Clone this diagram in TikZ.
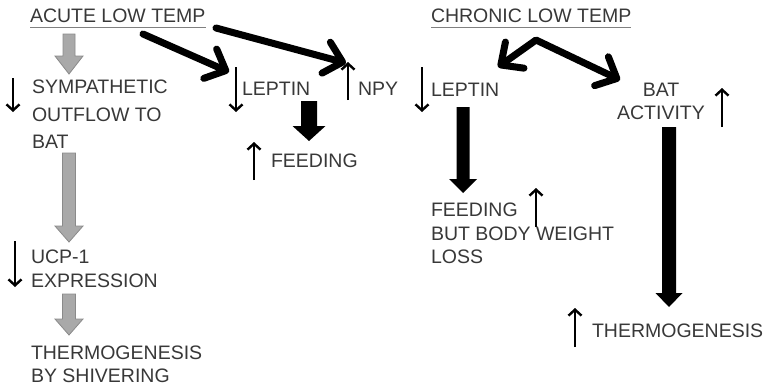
\documentclass[tikz,border=0pt]{standalone}
\usepackage{fontspec}
\setmainfont{Liberation Sans}
\usetikzlibrary{arrows.meta}

\definecolor{txt}{HTML}{383838}
\definecolor{grayfill}{HTML}{A9A9A9}
\definecolor{grayline}{HTML}{8A8A8A}
\definecolor{ulgray}{HTML}{808080}

\tikzset{
  lbl/.style={font=\fontsize{19.5}{23}\selectfont, text=txt, inner sep=0pt, outer sep=0pt},
  updown/.style={line width=2.4pt, -{Straight Barb[length=6pt,width=13pt,line join=miter]}},
  barb/.tip={Straight Barb[length=17pt,width=32pt,line cap=round,line join=round]},
  bigopen/.style={line width=7pt, line cap=round, line join=round, -barb},
  uline/.style={draw=ulgray, line width=1.5pt},
  grayblock/.style={fill=grayfill, draw=grayline, line width=0.8pt},
  blackblock/.style={fill=black},
  % downward block arrow: {length}{shaft width}{head width}{head length}
  pics/blockdown/.style n args={4}{code={
    \path[pic actions] (-#2/2,0) -- (#2/2,0) -- (#2/2,#1-#4) -- (#3/2,#1-#4)
      -- (0,#1) -- (-#3/2,#1-#4) -- (-#2/2,#1-#4) -- cycle;
  }}
}

\begin{document}
\begin{tikzpicture}[x=1pt,y=-1pt]
  \useasboundingbox (0,0) rectangle (768,388);

  % ---------- acute cold exposure ----------
  \node[lbl, anchor=base west] (acute) at (30,23) {ACUTE LOW TEMP};
  \draw[uline] ([yshift=-4.5pt]acute.base west) -- ([yshift=-4.5pt]acute.base east);

  \node[lbl, anchor=north west, align=left, font=\fontsize{19.5}{27.5}\selectfont]
    (symp) at (32,80) {SYMPATHETIC\\OUTFLOW TO\\BAT};
  \node[lbl, anchor=north west, align=left, font=\fontsize{19.5}{24}\selectfont]
    (ucp) at (31,250) {UCP-1\\EXPRESSION};
  \node[lbl, anchor=north west, align=left, font=\fontsize{19.5}{23}\selectfont]
    (shiver) at (31,346) {THERMOGENESIS\\BY SHIVERING};

  \node[lbl, anchor=base west] (leptA) at (242,95) {LEPTIN};
  \node[lbl, anchor=base west] (feedA) at (271,167) {FEEDING};
  \node[lbl, anchor=base west] (npy) at (358,95) {NPY};

  % gray block arrows down the left column
  \coordinate (g1) at (69,34);
  \coordinate (g2) at (69,153);
  \coordinate (g3) at (69,294);
  \pic[grayblock] at (g1) {blockdown={40}{12}{28}{18}};
  \pic[grayblock] at (g2) {blockdown={89}{13}{28}{16}};
  \pic[grayblock] at (g3) {blockdown={41}{13}{28}{16}};

  % thick arrows from the acute header
  \coordinate (k1s) at (143,34);
  \coordinate (k1e) at (229,72);
  \coordinate (k2s) at (216,28);
  \coordinate (k2e) at (346,63);
  \draw[bigopen] (k1s) -- (k1e);
  \draw[bigopen] (k2s) -- (k2e);

  % leptin -> feeding
  \coordinate (b1) at (309,101);
  \pic[blackblock] at (b1) {blockdown={40}{16}{33}{15}};

  % ---------- chronic cold exposure ----------
  \node[lbl, anchor=base west] (chronic) at (431,23) {CHRONIC LOW TEMP};
  \draw[uline] ([yshift=-4.5pt]chronic.base west) -- ([yshift=-4.5pt]chronic.base east);

  \node[lbl, anchor=base west] (leptC) at (431,96) {LEPTIN};
  \node[lbl, anchor=north, align=center, font=\fontsize{19.5}{23}\selectfont]
    (bat) at (661,83) {BAT\\ACTIVITY};
  \node[lbl, anchor=north west, align=left, font=\fontsize{19.5}{23.5}\selectfont]
    (feedC) at (431,203) {FEEDING\\BUT BODY WEIGHT\\LOSS};
  \node[lbl, anchor=base west] (thermo) at (592,337) {THERMOGENESIS};

  % split arrow from the chronic header
  \coordinate (apex) at (536,40);
  \coordinate (kl) at (498,67);
  \coordinate (kr) at (620,80);
  \draw[bigopen, barb-barb] (kl) -- (apex) -- (kr);

  % leptin -> feeding, BAT activity -> thermogenesis
  \coordinate (b2) at (463,107);
  \pic[blackblock] at (b2) {blockdown={86}{13}{28}{14}};
  \coordinate (b3) at (669,127);
  \pic[blackblock] at (b3) {blockdown={180}{14}{27}{14}};

  % up / down change markers
  \draw[updown] (13,78) -- (13,112);
  \draw[updown] (15,241) -- (15,287);
  \draw[updown] (236,67) -- (236,112);
  \draw[updown] (254,180) -- (254,142);
  \draw[updown] (348,100) -- (348,62);
  \draw[updown] (422,67) -- (422,112);
  \draw[updown] (536,227) -- (536,188);
  \draw[updown] (722,127) -- (722,88);
  \draw[updown] (575,347) -- (575,308);
\end{tikzpicture}
\end{document}
